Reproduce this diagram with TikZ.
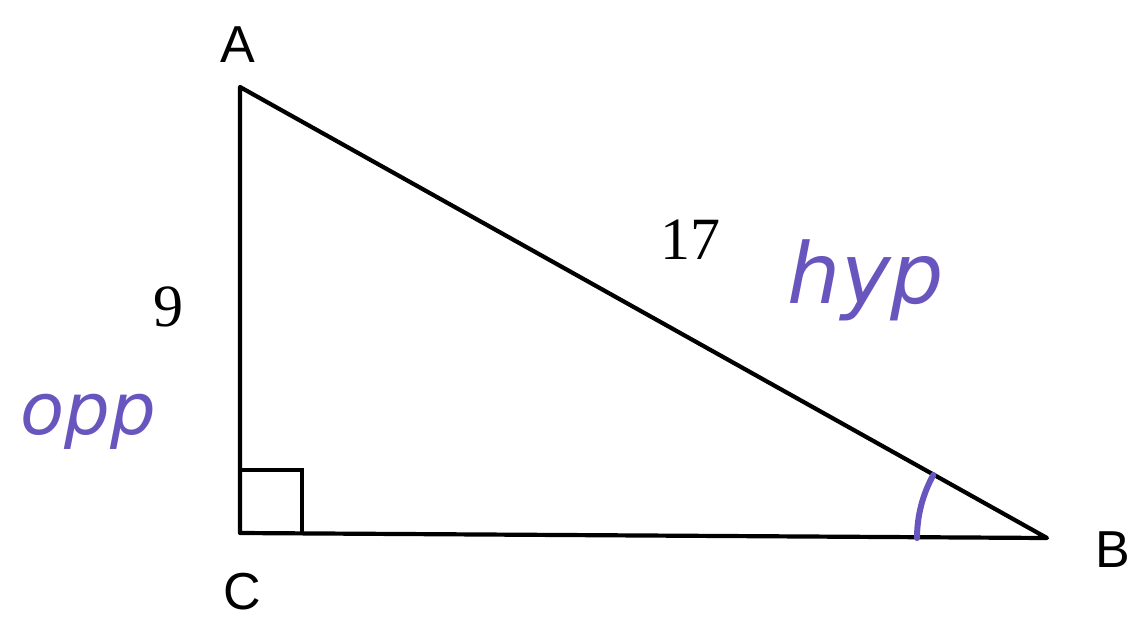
\documentclass[tikz,border=0pt]{standalone}
\usepackage{fontspec}
\usetikzlibrary{calc}
\setmainfont{Liberation Serif}
\newfontfamily\labelfont{Liberation Sans}
\newfontfamily\handfont{DejaVu Sans}
\definecolor{pen}{RGB}{105,85,190}
\begin{document}
\begin{tikzpicture}[x=1pt,y=-1pt,
  side/.style={line width=4.2pt,line cap=round,line join=round},
  vlabel/.style={font=\labelfont\fontsize{52}{52}\selectfont},
  num/.style={font=\fontsize{60}{60}\selectfont},
  hand/.style={text=pen,font=\handfont\itshape\fontsize{72}{72}\selectfont}]
\useasboundingbox (0,0) rectangle (1139,624);
\coordinate (A) at (240,87);
\coordinate (C) at (240,533);
\coordinate (B) at (1047,538);
\draw[side] (A) -- (C) -- (B) -- cycle;
\draw[line width=3.6pt] (240,470) -- (302,470) -- (302,533);
\draw[pen,line width=6pt,line cap=round] ($(B)+(-130,0)$) arc[start angle=180,end angle=209,radius=130];
\node[vlabel] (la) at (238,45) {A};
\node[vlabel] (lc) at (242,592) {C};
\node[vlabel] (lb) at (1113,550) {B};
\node[num] (n9) at (168,307) {9};
\node[num] (n17) at (690,240) {17};
\node[hand,font=\handfont\itshape\fontsize{84}{84}\selectfont] (hyp) at (866,280) {hyp};
\node[hand] (opp) at (88,422) {opp};
\end{tikzpicture}
\end{document}
